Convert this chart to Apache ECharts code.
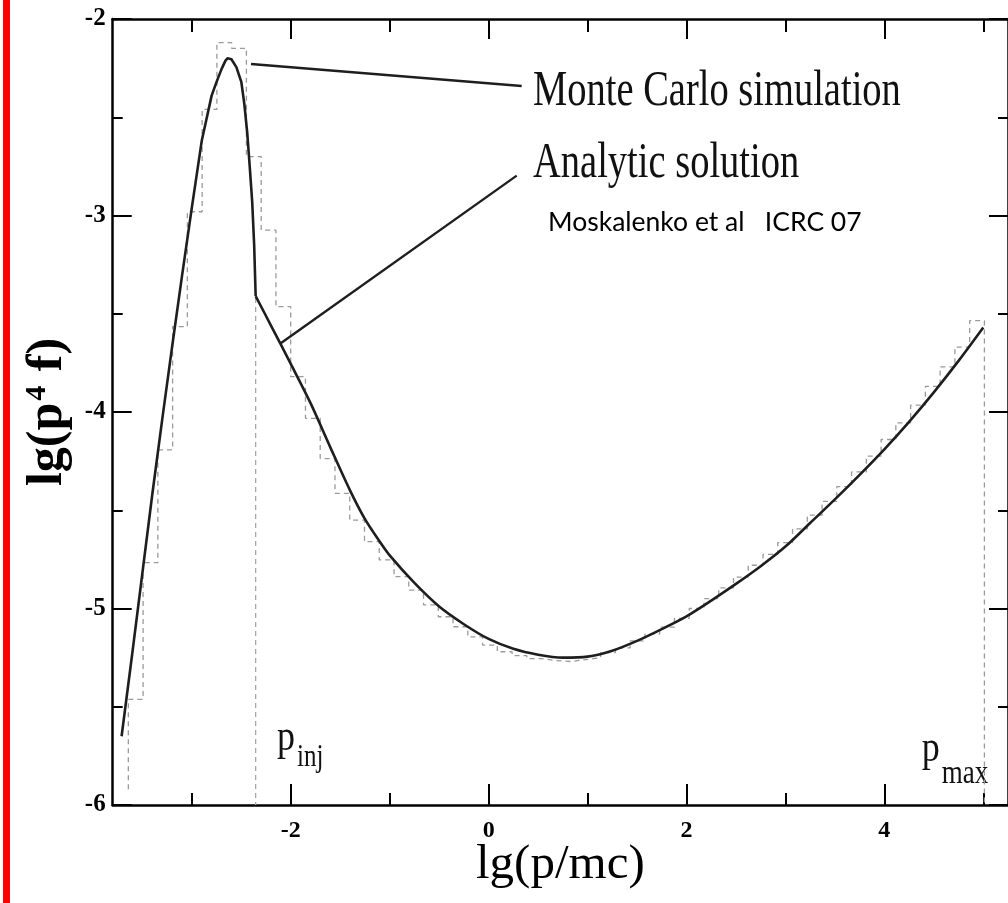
<!DOCTYPE html>
<html>
<head>
<meta charset="utf-8">
<script src="https://cdn.jsdelivr.net/npm/echarts@6/dist/echarts.min.js"></script>
<style>
html, body { margin: 0; padding: 0; background: #fff; }
#chart { width: 1008px; height: 903px; }
</style>
</head>
<body>
<div id="chart"></div>
<script>
// Monte Carlo simulation: histogram with equal-width bins in lg(p/mc)
const mcBinStart = -3.642;
const mcBinWidth = 0.1492;
const mcFloor = -5.92;
const mcValues = [
  -5.462, -4.767, -4.193, -3.566, -2.981, -2.46, -2.12, -2.149, -2.70, -3.074,
  -3.464, -3.82, -4.032, -4.237, -4.414, -4.55, -4.66, -4.753, -4.838, -4.906,
  -4.982, -5.042, -5.093, -5.144, -5.186, -5.22, -5.24, -5.255, -5.265, -5.27,
  -5.26, -5.25, -5.225, -5.20, -5.165, -5.13, -5.095, -5.05, -5.0, -4.95,
  -4.895, -4.84, -4.78, -4.725, -4.665, -4.595, -4.525, -4.455, -4.38, -4.305,
  -4.225, -4.14, -4.055, -3.965, -3.87, -3.77, -3.67, -3.535
];

// Analytic solution
const analyticX = [
  -3.71, -3.6, -3.5, -3.4, -3.3, -3.2, -3.1, -3.0, -2.9, -2.8, -2.75, -2.7, -2.66,
  -2.64, -2.6, -2.55, -2.5, -2.47, -2.44, -2.415, -2.39, -2.37, -2.355,
  -2.2, -2.0, -1.8, -1.6, -1.4, -1.25, -1.1, -1.0, -0.75, -0.5, -0.25, 0.0,
  0.25, 0.5, 0.75, 1.0, 1.25, 1.5, 1.75, 2.0, 2.25, 2.5, 2.75, 3.0, 3.25, 3.5,
  3.75, 4.0, 4.25, 4.5, 4.75, 5.0
];
const analyticY = [
  -5.65, -5.22, -4.82, -4.42, -4.04, -3.67, -3.31, -2.96, -2.62, -2.39, -2.32, -2.255, -2.212,
  -2.20, -2.205, -2.245, -2.32, -2.43, -2.58, -2.75, -2.93, -3.15, -3.41,
  -3.56, -3.755, -3.955, -4.18, -4.40, -4.545, -4.66, -4.73, -4.87, -4.99, -5.08, -5.155,
  -5.205, -5.235, -5.25, -5.245, -5.215, -5.165, -5.105, -5.04, -4.96, -4.875, -4.785, -4.685, -4.565, -4.445,
  -4.32, -4.19, -4.05, -3.90, -3.74, -3.57
];

// Injection momentum: the analytic solution has a kink here
const pInj = -2.355;
const pInjTop = -3.42;

// Leader lines from the curve to their captions
const leaderMonteCarlo = [[-2.402, -2.229], [0.334, -2.341]];
const leaderAnalytic = [[0.284, -2.797], [-2.105, -3.651]];

// Axis ticks
const xMajorTicks = [-2, 0, 2, 4];
const xMinorTicks = [-3, -1, 1, 3, 5];
const xRange = [-3.8, 5.25];
const yRange = [-6, -2];

// ---- build series data ----
const mcPath = [[mcBinStart, mcFloor]];
mcValues.forEach(function (v, i) {
  const left = mcBinStart + i * mcBinWidth;
  mcPath.push([left, v], [left + mcBinWidth, v]);
});
mcPath.push([mcBinStart + mcValues.length * mcBinWidth, yRange[0]]);

const analyticData = analyticX.map(function (x, i) { return [x, analyticY[i]]; });
// below p_inj the peak is drawn point to point; above it the smooth power-law branch
const analyticLow = analyticData.filter(function (d) { return d[0] <= pInj; });
const analyticHigh = analyticData.filter(function (d) { return d[0] >= pInj; });

const SERIF = '"Liberation Serif", "Times New Roman", serif';
const AXIS_COLOR = '#000';

function xAxisDef(position, ticks, tickLen, showLine, showLabels, extra) {
  return Object.assign({
    type: 'value',
    position: position,
    min: xRange[0],
    max: xRange[1],
    axisLine: { show: showLine, onZero: false, lineStyle: { color: AXIS_COLOR, width: 2.5 } },
    axisTick: { show: true, inside: true, length: tickLen, customValues: ticks,
      lineStyle: { color: AXIS_COLOR, width: 2 } },
    axisLabel: showLabels ? {
      show: true, customValues: ticks, margin: 14, color: '#000',
      fontFamily: SERIF, fontSize: 24, fontWeight: 'bold'
    } : { show: false },
    splitLine: { show: false }
  }, extra || {});
}

function yAxisDef(position, showLabels, extra) {
  return Object.assign({
    type: 'value',
    position: position,
    min: yRange[0],
    max: yRange[1],
    interval: 1,
    axisLine: { show: true, onZero: false, lineStyle: { color: AXIS_COLOR, width: 2.5 } },
    axisTick: { show: true, inside: true, length: 19, lineStyle: { color: AXIS_COLOR, width: 2 } },
    minorTick: { show: true, splitNumber: 2, length: 10, lineStyle: { color: AXIS_COLOR, width: 2 } },
    axisLabel: showLabels ? {
      show: true, margin: 7, color: '#000',
      fontFamily: SERIF, fontSize: 25, fontWeight: 'bold'
    } : { show: false },
    splitLine: { show: false },
    minorSplitLine: { show: false }
  }, extra || {});
}

const chart = echarts.init(document.getElementById('chart'), null, { renderer: 'canvas' });

const curveStyle = { color: '#1e1e1e', width: 2.6 };

chart.setOption({
  animation: false,
  backgroundColor: '#fff',
  grid: { left: 112.7, top: 19, width: 903, height: 786, containLabel: false },
  xAxis: [
    xAxisDef('bottom', xMajorTicks, 21, true, true, {
      name: 'lg(p/mc)',
      nameLocation: 'middle',
      nameGap: 36,
      nameMoveOverlap: false,
      nameTextStyle: { fontFamily: SERIF, fontSize: 49, color: '#000' }
    }),
    xAxisDef('bottom', xMinorTicks, 12, false, false),
    xAxisDef('top', xMajorTicks, 20, true, false),
    xAxisDef('top', xMinorTicks, 13, false, false)
  ],
  yAxis: [
    yAxisDef('left', true, {
      name: '{a|lg(p}{s|4}{a| f)}',
      nameLocation: 'middle',
      nameGap: 40,
      nameMoveOverlap: false,
      nameTextStyle: {
        fontFamily: SERIF, fontSize: 50, fontWeight: 'bold', color: '#000',
        rich: {
          a: { fontFamily: SERIF, fontSize: 50, fontWeight: 'bold', color: '#000' },
          s: { fontFamily: SERIF, fontSize: 30, fontWeight: 'bold', color: '#000', verticalAlign: 'top', padding: [0, 2, 0, 2] }
        }
      }
    }),
    yAxisDef('right', false)
  ],
  series: [
    {
      name: 'Monte Carlo simulation',
      type: 'line',
      data: mcPath,
      showSymbol: false,
      symbol: 'none',
      silent: true,
      clip: false,
      lineStyle: { color: '#9a9a9a', width: 1.3, type: [5, 4] },
      z: 2
    },
    {
      name: 'pinj',
      type: 'line',
      data: [[pInj, pInjTop], [pInj, yRange[0]]],
      symbol: 'none',
      silent: true,
      lineStyle: { color: '#a8a8a8', width: 1.3, type: [5, 4] },
      z: 2
    },
    {
      name: 'Analytic solution',
      type: 'line',
      data: analyticLow,
      showSymbol: false,
      symbol: 'none',
      silent: true,
      smooth: false,
      lineStyle: curveStyle,
      z: 4
    },
    {
      name: 'Analytic solution (p > pinj)',
      type: 'line',
      data: analyticHigh,
      showSymbol: false,
      symbol: 'none',
      silent: true,
      smooth: 0.3,
      lineStyle: curveStyle,
      z: 4
    },
    {
      name: 'leader-mc',
      type: 'line',
      data: leaderMonteCarlo,
      symbol: 'none',
      silent: true,
      lineStyle: { color: '#1e1e1e', width: 2.4 },
      z: 4
    },
    {
      name: 'leader-analytic',
      type: 'line',
      data: leaderAnalytic,
      symbol: 'none',
      silent: true,
      lineStyle: { color: '#1e1e1e', width: 2.4 },
      z: 4
    }
  ],
  graphic: [
    { type: 'rect', left: 3, top: 0, shape: { width: 7, height: 903 }, style: { fill: '#ff0000' }, z: 10 },
    { type: 'text', x: 533, y: 91.6, scaleY: 1.29,
      style: { text: 'Monte Carlo simulation', font: '38.5px ' + SERIF, fill: '#111',
        align: 'left', verticalAlign: 'middle', textAlign: 'left', textVerticalAlign: 'middle' } },
    { type: 'text', x: 533, y: 163.6, scaleY: 1.29,
      style: { text: 'Analytic solution', font: '38.5px ' + SERIF, fill: '#111',
        align: 'left', verticalAlign: 'middle', textAlign: 'left', textVerticalAlign: 'middle' } },
    { type: 'text', x: 548, y: 222,
      style: { text: 'Moskalenko et al   ICRC 07', font: '26.5px Lato, "Open Sans", sans-serif', fill: '#000',
        align: 'left', verticalAlign: 'middle', textAlign: 'left', textVerticalAlign: 'middle' } },
    { type: 'text', x: 277, y: 738, scaleY: 1.25,
      style: { text: 'p', font: '36px ' + SERIF, fill: '#111',
        align: 'left', verticalAlign: 'middle', textAlign: 'left', textVerticalAlign: 'middle' } },
    { type: 'text', x: 297, y: 757.7, scaleY: 1.25,
      style: { text: 'inj', font: '25px ' + SERIF, fill: '#111',
        align: 'left', verticalAlign: 'middle', textAlign: 'left', textVerticalAlign: 'middle' } },
    { type: 'text', x: 921.7, y: 749.6, scaleY: 1.25,
      style: { text: 'p', font: '36px ' + SERIF, fill: '#111',
        align: 'left', verticalAlign: 'middle', textAlign: 'left', textVerticalAlign: 'middle' } },
    { type: 'text', x: 941.7, y: 773.9, scaleY: 1.25,
      style: { text: 'max', font: '27px ' + SERIF, fill: '#111',
        align: 'left', verticalAlign: 'middle', textAlign: 'left', textVerticalAlign: 'middle' } }
  ]
});
</script>
</body>
</html>
